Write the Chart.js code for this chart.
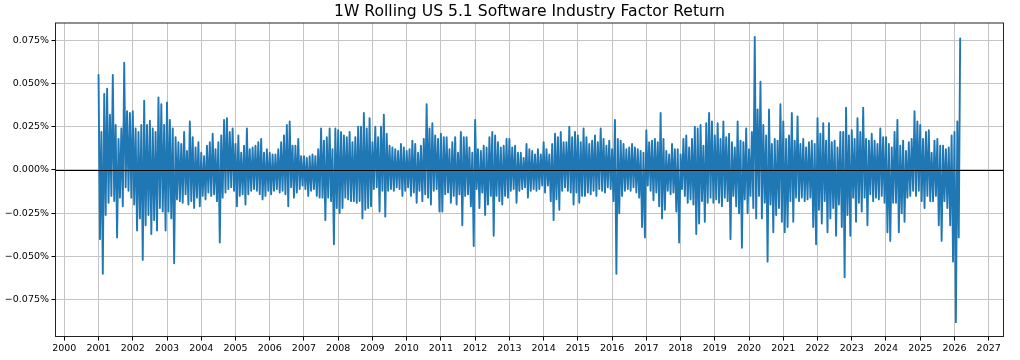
<!DOCTYPE html>
<html>
<head>
<meta charset="utf-8">
<script src="https://cdn.jsdelivr.net/npm/chart.js@4.4.1/dist/chart.umd.min.js"></script>
<style>
html,body{margin:0;padding:0;background:#fff}
#wrap{width:1020px;height:360px;position:relative}
</style>
</head>
<body>
<div id="wrap"><canvas id="c"></canvas></div>
<script>
const chartTitle = '1W Rolling US 5.1 Software Industry Factor Return';
const firstYear = 2001;
// monthly peak (high) and trough (low) of the 1W rolling return, in basis points (0.01%)
const monthlyHigh = [
  5.5, 2.2, 4.4, 4.7, 3.2, 5.5, 2.6, 1.8, 2.4, 6.2, 3.4, 3.3,   // 2001
  3.4, 2.4, 2.2, 2.6, 4.0, 2.6, 2.85, 2.4, 2.2, 4.2, 3.8, 2.6,  // 2002
  3.9, 2.9, 2.4, 1.9, 1.6, 1.5, 2.2, 1.1, 2.8, 1.9, 1.3, 1.6,   // 2003
  1.0, 0.8, 1.4, 1.6, 2.1, 1.2, 1.6, 2.0, 2.9, 3.0, 2.2, 2.4,   // 2004
  1.5, 2.0, 1.0, 1.4, 2.4, 1.2, 1.3, 1.4, 1.6, 1.8, 1.0, 1.2,   // 2005
  1.0, 0.9, 0.9, 1.2, 1.6, 2.0, 2.6, 2.8, 1.4, 1.4, 1.8, 0.8,   // 2006
  0.8, 0.7, 0.8, 0.9, 0.8, 1.2, 2.4, 1.7, 1.9, 2.4, 1.2, 2.4,   // 2007
  2.3, 2.2, 2.0, 1.9, 2.2, 1.6, 1.9, 2.5, 2.5, 3.3, 2.4, 3.0,   // 2008
  1.6, 2.5, 1.9, 2.5, 3.2, 2.1, 1.4, 1.3, 1.2, 1.1, 1.5, 1.3,   // 2009
  1.1, 1.2, 1.7, 1.5, 1.0, 1.4, 1.8, 3.8, 2.4, 2.7, 2.0, 1.8,   // 2010
  2.1, 1.9, 1.9, 1.2, 1.6, 1.9, 1.0, 2.2, 1.9, 1.9, 1.3, 1.0,   // 2011
  2.9, 1.2, 1.1, 1.4, 1.3, 1.9, 2.2, 2.0, 1.6, 1.3, 1.4, 1.8,   // 2012
  1.8, 1.3, 1.4, 1.0, 1.0, 0.7, 1.5, 1.2, 1.1, 0.9, 1.2, 0.9,   // 2013
  1.6, 1.2, 0.9, 1.5, 2.1, 1.9, 2.2, 1.6, 1.6, 2.5, 1.9, 2.2,   // 2014
  2.0, 1.6, 2.4, 1.9, 1.5, 1.7, 2.0, 1.6, 2.4, 1.8, 1.4, 1.7,   // 2015
  1.2, 2.9, 1.8, 1.7, 1.5, 1.2, 1.3, 1.5, 1.3, 1.2, 1.1, 1.0,   // 2016
  2.3, 1.6, 1.7, 1.8, 1.6, 3.3, 1.8, 1.1, 0.9, 1.5, 1.2, 1.2,   // 2017
  0.9, 1.8, 2.0, 1.3, 1.8, 2.5, 2.4, 2.6, 1.4, 2.7, 3.3, 2.8,   // 2018
  2.0, 2.7, 1.8, 2.8, 1.9, 2.1, 1.6, 1.3, 2.8, 1.7, 1.6, 2.4,   // 2019
  1.2, 2.2, 7.7, 3.5, 5.1, 2.6, 2.0, 3.5, 1.5, 1.8, 1.7, 3.8,   // 2020
  2.8, 1.8, 2.0, 3.3, 1.7, 3.1, 1.5, 1.8, 1.3, 1.6, 1.7, 1.5,   // 2021
  3.0, 2.1, 2.7, 1.7, 2.7, 1.6, 1.7, 1.3, 2.2, 2.2, 3.6, 2.0,   // 2022
  2.3, 1.8, 3.0, 2.2, 3.6, 1.8, 1.7, 2.1, 1.7, 1.5, 2.4, 1.9,   // 2023
  1.9, 1.5, 1.3, 2.2, 2.9, 1.4, 1.7, 1.1, 1.6, 1.8, 3.4, 2.8,   // 2024
  2.6, 1.8, 2.2, 2.3, 1.0, 1.7, 1.8, 1.4, 1.4, 1.2, 1.3, 2.0,   // 2025
  2.2, 2.8, 7.6                                                 // 2026
];
const monthlyLow = [
  -4.0, -6.0, -2.6, -1.9, -1.5, -1.8, -3.9, -1.6, -2.1, -1.0, -1.2, -1.6,  // 2001
  -2.0, -3.5, -2.8, -5.2, -3.2, -2.6, -3.7, -2.9, -3.5, -2.2, -2.4, -3.5,  // 2002
  -2.4, -2.8, -5.4, -1.7, -1.8, -1.9, -1.4, -2.0, -1.8, -2.2, -1.6, -2.1,  // 2003
  -1.5, -1.7, -1.3, -1.5, -1.4, -1.8, -4.2, -1.6, -1.3, -1.1, -1.0, -1.2,  // 2004
  -2.1, -1.5, -1.4, -2.0, -1.4, -1.2, -1.1, -1.2, -1.4, -1.7, -1.5, -1.2,  // 2005
  -1.4, -1.2, -1.1, -1.3, -1.2, -1.4, -2.1, -1.0, -1.6, -1.3, -1.1, -0.9,  // 2006
  -1.1, -1.5, -1.2, -1.1, -1.5, -1.6, -1.6, -2.9, -1.6, -1.8, -4.3, -2.2,  // 2007
  -2.5, -2.2, -1.6, -1.7, -1.8, -1.8, -1.9, -1.8, -2.8, -2.3, -2.2, -2.1,  // 2008
  -1.1, -1.0, -2.4, -1.2, -2.7, -1.2, -1.1, -1.2, -1.0, -1.1, -1.5, -1.2,  // 2009
  -1.0, -1.5, -1.3, -1.9, -1.2, -1.8, -1.4, -1.6, -2.0, -1.2, -1.1, -2.4,  // 2010
  -2.4, -1.4, -1.3, -1.9, -1.5, -2.0, -1.4, -3.2, -1.5, -1.4, -2.1, -4.4,  // 2011
  -1.1, -2.2, -1.3, -2.6, -2.0, -1.5, -3.8, -1.5, -1.8, -2.0, -1.5, -1.6,  // 2012
  -1.2, -1.1, -1.9, -1.2, -1.1, -1.0, -1.6, -1.2, -1.1, -1.2, -1.1, -0.9,  // 2013
  -1.3, -0.9, -1.8, -2.9, -1.7, -2.3, -1.2, -1.0, -1.2, -1.3, -2.0, -1.3,  // 2014
  -1.9, -1.5, -1.5, -1.3, -1.4, -1.2, -1.5, -1.1, -1.2, -1.3, -1.0, -1.1,  // 2015
  -1.8, -6.0, -2.5, -1.5, -1.2, -1.1, -1.2, -1.0, -1.3, -1.6, -3.3, -3.9,  // 2016
  -0.9, -1.2, -1.75, -1.3, -2.1, -2.8, -2.3, -1.2, -1.4, -1.3, -2.4, -4.2, // 2017
  -1.1, -1.5, -1.9, -1.7, -2.0, -3.7, -3.1, -1.8, -3.0, -1.9, -1.6, -1.9,  // 2018
  -1.7, -1.9, -2.1, -1.6, -1.8, -4.0, -1.5, -2.1, -2.5, -4.5, -1.7, -2.5,  // 2019
  -1.5, -2.2, -2.8, -1.5, -2.8, -1.9, -5.3, -2.0, -3.6, -2.6, -2.2, -3.0,  // 2020
  -3.6, -3.3, -1.8, -3.0, -1.6, -1.8, -1.6, -1.8, -1.7, -1.6, -3.3, -4.3,  // 2021
  -2.3, -3.1, -1.8, -3.6, -2.8, -2.2, -3.8, -2.0, -3.3, -6.2, -2.6, -3.8,  // 2022
  -1.6, -3.0, -1.9, -2.4, -1.6, -3.2, -1.4, -1.8, -1.6, -1.7, -1.5, -1.9,  // 2023
  -3.6, -4.1, -1.9, -1.9, -3.6, -2.5, -3.0, -1.6, -1.5, -1.2, -1.5, -1.2,  // 2024
  -1.8, -2.2, -1.5, -1.8, -1.8, -1.5, -3.2, -4.1, -1.8, -2.2, -3.2, -5.3,  // 2025
  -8.8, -3.9                                                               // 2026
];
const yTickValues = [-7.5, -5, -2.5, 0, 2.5, 5, 7.5];
const xTickYears = [2000, 2001, 2002, 2003, 2004, 2005, 2006, 2007, 2008, 2009, 2010, 2011, 2012, 2013,
  2014, 2015, 2016, 2017, 2018, 2019, 2020, 2021, 2022, 2023, 2024, 2025, 2026, 2027];

// build the series: each month contributes its high then its low
const points = [];
monthlyHigh.forEach((h, m) => {
  points.push({ x: firstYear + m / 12, y: h });
  if (m < monthlyLow.length) points.push({ x: firstYear + m / 12 + 1 / 24, y: monthlyLow[m] });
});

const FONT = '"DejaVu Sans", "Liberation Sans", sans-serif';

const framePlugin = {
  id: 'frame',
  afterDatasetsDraw(chart) {
    const { ctx, chartArea: a, scales } = chart;
    const y0 = Math.round(scales.y.getPixelForValue(0)) + 0.5;
    ctx.save();
    ctx.strokeStyle = '#000';
    ctx.lineWidth = 1;
    ctx.beginPath();
    ctx.moveTo(a.left, y0);
    ctx.lineTo(a.right, y0);
    ctx.stroke();
    ctx.restore();
  },
  afterDraw(chart) {
    const { ctx, chartArea: a } = chart;
    ctx.save();
    ctx.strokeStyle = '#222';
    ctx.lineWidth = 1;
    ctx.strokeRect(a.left, a.top, a.right - a.left, a.bottom - a.top);
    ctx.fillStyle = '#000';
    ctx.font = '15.6px ' + FONT;
    ctx.textAlign = 'center';
    ctx.textBaseline = 'alphabetic';
    ctx.fillText(chartTitle, (a.left + a.right) / 2, 15.8);
    ctx.restore();
  }
};

new Chart(document.getElementById('c'), {
  type: 'line',
  data: {
    datasets: [{
      data: points,
      borderColor: '#1f77b4',
      borderWidth: 1.9,
      borderJoinStyle: 'round',
      borderCapStyle: 'round',
      pointRadius: 0,
      tension: 0,
      fill: false
    }]
  },
  options: {
    responsive: true,
    maintainAspectRatio: false,
    animation: false,
    events: [],
    layout: { padding: { top: 23, right: 16.5, bottom: 0, left: 0 } },
    plugins: { legend: { display: false }, tooltip: { enabled: false }, title: { display: false } },
    scales: {
      x: {
        type: 'linear',
        min: 1999.743,
        max: 2027.432,
        afterBuildTicks: s => { s.ticks = xTickYears.map(v => ({ value: v })); },
        afterFit: s => { s.height = 23.5; },
        border: { display: false },
        grid: { color: '#c4c4c4', lineWidth: 1, tickLength: 4, tickColor: '#000', tickWidth: 1 },
        ticks: {
          autoSkip: false, maxRotation: 0, minRotation: 0, padding: 2.5,
          color: '#000', font: { family: FONT, size: 9.5 },
          callback: v => String(v)
        }
      },
      y: {
        type: 'linear',
        min: -9.63,
        max: 8.5,
        afterBuildTicks: s => { s.ticks = yTickValues.map(v => ({ value: v })); },
        afterFit: s => { s.width = 55.5; },
        border: { display: false },
        grid: { color: '#c4c4c4', lineWidth: 1, tickLength: 4, tickColor: '#000', tickWidth: 1 },
        ticks: {
          padding: 2.5, color: '#000', font: { family: FONT, size: 9.5 },
          callback: v => (v < 0 ? '\u2212' : '') + (Math.abs(v) / 100).toFixed(3) + '%'
        }
      }
    }
  },
  plugins: [framePlugin]
});
</script>
</body>
</html>
